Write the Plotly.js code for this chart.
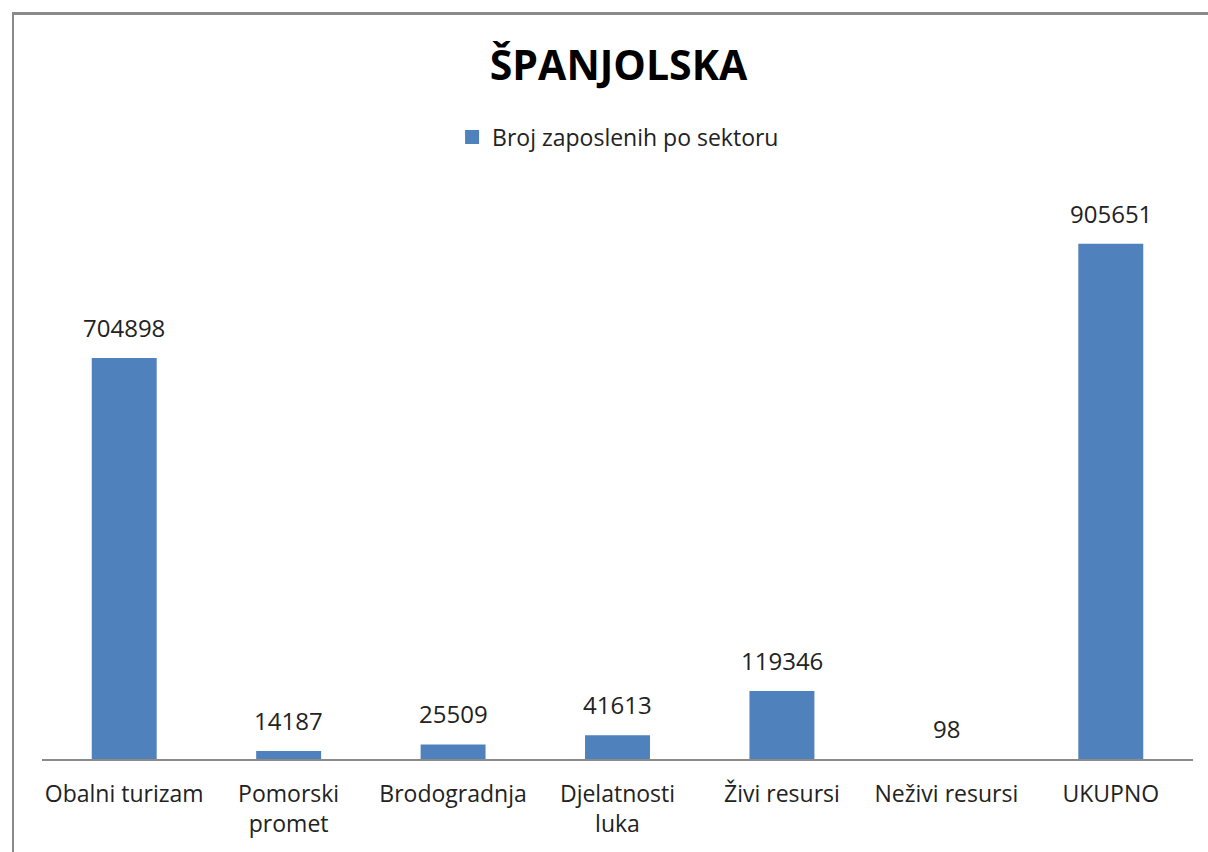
<!DOCTYPE html>
<html>
<head>
<meta charset="utf-8">
<script src="https://cdn.plot.ly/plotly-3.0.1.min.js"></script>
<style>
html,body{margin:0;padding:0;background:#fff;}
#chart{width:1208px;height:852px;position:relative;}
#frame{position:absolute;left:12px;top:12px;width:1300px;height:1000px;border-left:2px solid #8a8a8a;border-top:3px solid #8a8a8a;pointer-events:none;z-index:10;box-sizing:border-box;}
</style>
</head>
<body>
<div id="chart"></div>
<div id="frame"></div>
<script>
const categories = ["Obalni turizam", "Pomorski<br>promet", "Brodogradnja", "Djelatnosti<br>luka", "Živi resursi", "Neživi resursi", "UKUPNO"];
const values = [704898, 14187, 25509, 41613, 119346, 98, 905651];
const seriesName = "Broj zaposlenih po sektoru";
const chartTitle = "ŠPANJOLSKA";

const fontFam = "Open Sans, Noto Sans, sans-serif";
const barColor = "#4F81BD";

const trace = {
  type: "bar",
  x: categories,
  y: values,
  name: seriesName,
  marker: {color: barColor},
  showlegend: false
};

// legend-only entry with a larger square swatch
const legendTrace = {
  type: "scatter",
  mode: "markers",
  x: [null], y: [null],
  name: seriesName,
  marker: {symbol: "square", size: 14, color: barColor},
  showlegend: true,
  hoverinfo: "skip"
};

const annotations = categories.map((c, i) => ({
  x: c, y: values[i], xref: "x", yref: "y",
  text: String(values[i]),
  showarrow: false, yanchor: "bottom", yshift: 12,
  font: {family: fontFam, size: 24, color: "#222"}
}));

const layout = {
  width: 1208, height: 852,
  margin: {l: 42, r: 15, t: 190, b: 93},
  paper_bgcolor: "#fff", plot_bgcolor: "#fff",
  title: {text: "<b>" + chartTitle + "</b>", x: 0.512, xanchor: "center", y: 0.923, yanchor: "middle",
          font: {family: fontFam, size: 41, color: "#000"}},
  showlegend: true,
  legend: {orientation: "h", x: 0.5005, xanchor: "center", y: 0.839, yanchor: "middle", yref: "container",
           font: {family: fontFam, size: 23, color: "#222"}, itemwidth: 30, bgcolor: "rgba(0,0,0,0)"},
  bargap: 0.605,
  xaxis: {showline: true, linecolor: "#8a8a8a", linewidth: 2, ticks: "", showgrid: false,
          ticklabelstandoff: 13,
          tickfont: {family: fontFam, size: 23, color: "#222"}, fixedrange: true},
  yaxis: {range: [0, 1000000], visible: false, showgrid: false, zeroline: false, fixedrange: true},
  annotations: annotations
};

Plotly.newPlot("chart", [trace, legendTrace], layout, {displayModeBar: false, staticPlot: true});
</script>
</body>
</html>
